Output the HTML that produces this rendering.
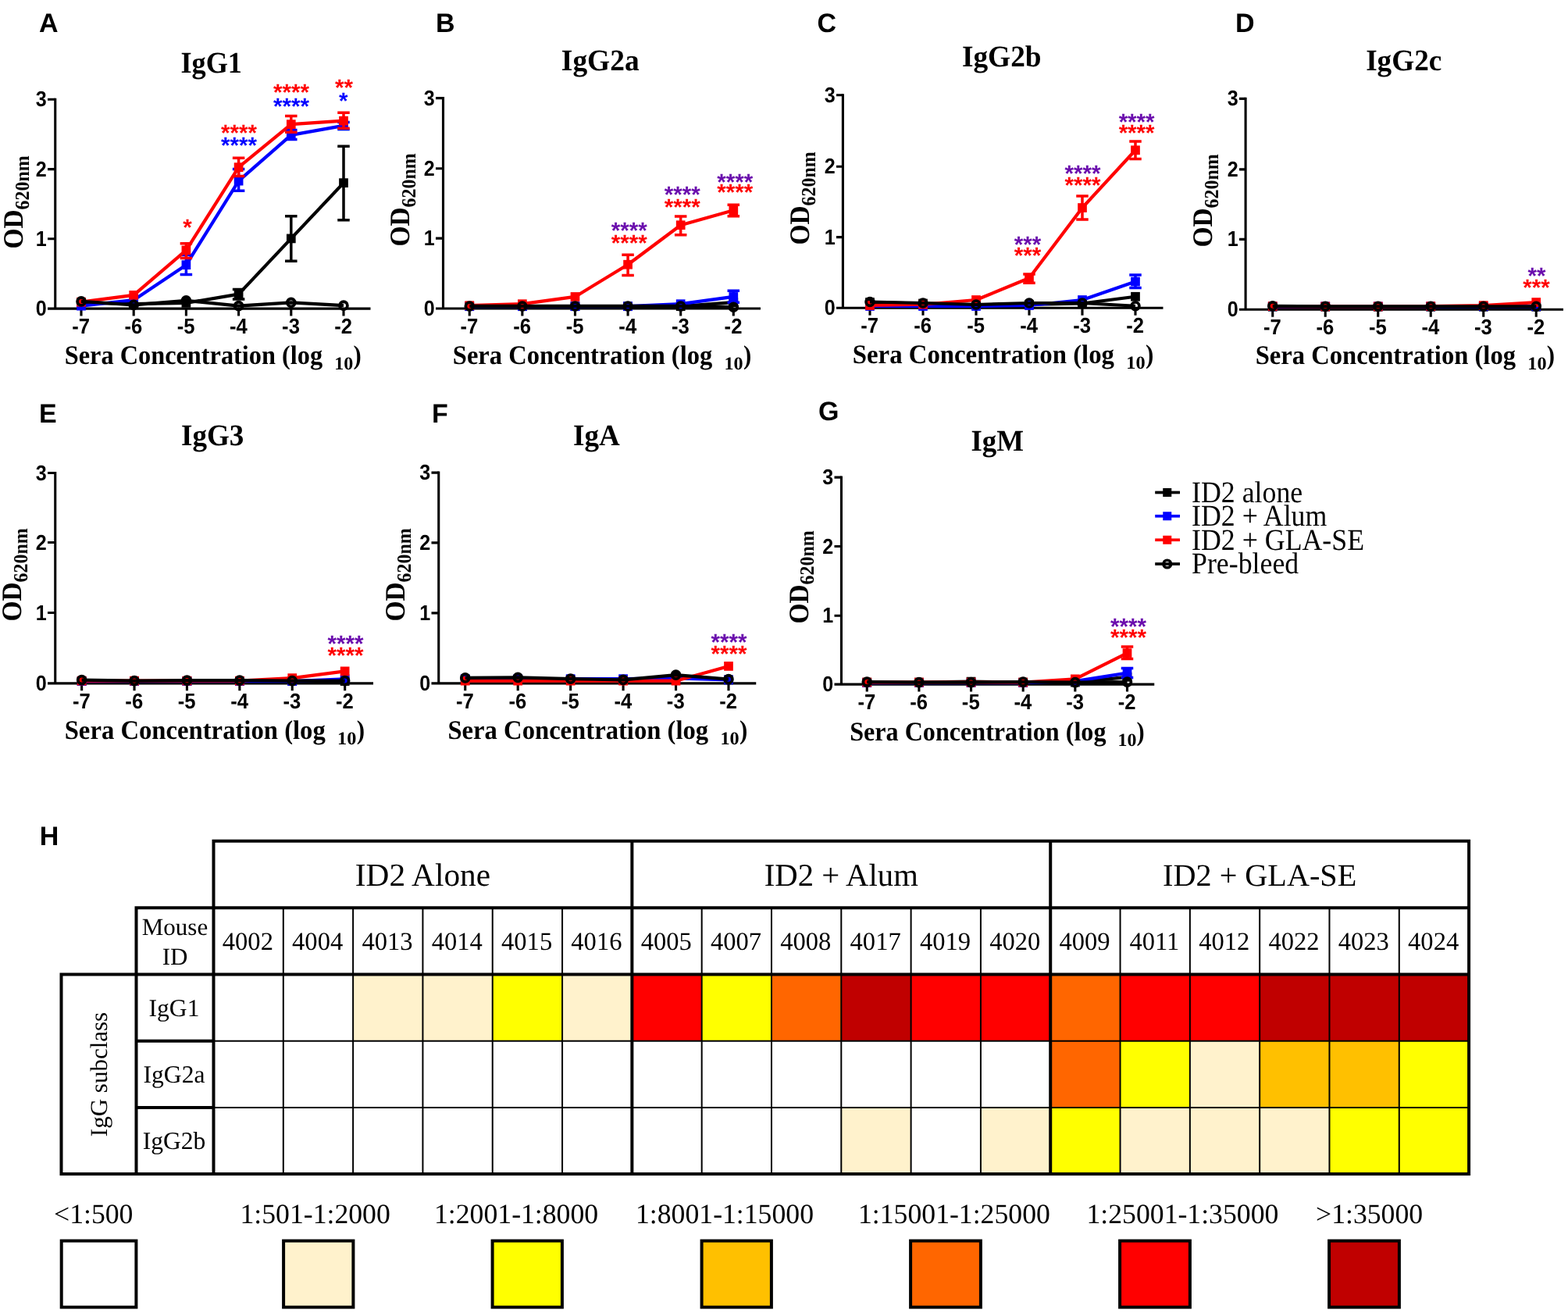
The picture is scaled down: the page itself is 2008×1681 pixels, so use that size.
<!DOCTYPE html>
<html lang="en">
<head>
<meta charset="utf-8">
<title>ID2 antibody isotype responses</title>
<style>
html,body{margin:0;padding:0;background:#fff;}
body{width:2008px;height:1681px;overflow:hidden;}
svg{display:block;position:absolute;left:0;top:0;}

</style>
</head>
<body>
<svg xmlns="http://www.w3.org/2000/svg" width="2008" height="1681" viewBox="0 0 2008 1681" shape-rendering="geometricPrecision" text-rendering="geometricPrecision">
<rect x="0" y="0" width="2008" height="1681" fill="#ffffff"/>
<g id="panel-A">
<text x="50" y="41" font-family="'Liberation Sans', Arial, Helvetica, sans-serif" font-weight="700" font-size="34">A</text>
<text transform="translate(270.7 92.9) scale(0.944 1)" text-anchor="middle" font-family="'Liberation Serif', 'Times New Roman', Times, serif" font-weight="700" font-size="38.4">IgG1</text>
<path d="M70.75 125.7V395.1M61 395.1H474.5" fill="none" stroke="#000" stroke-width="3.1"/>
<path d="M61 127.25H70.75M61 216.6H70.75M61 305.8H70.75M104 395.1V404.6M171.2 395.1V404.6M238.4 395.1V404.6M305.6 395.1V404.6M372.8 395.1V404.6M440 395.1V404.6" fill="none" stroke="#000" stroke-width="3.1"/>
<path d="M104 387.4 L171.2 389.15 L238.4 387.9 L305.6 376.65 L372.8 305.4 L440 234.15" fill="none" stroke="#000000" stroke-width="4.2" stroke-linejoin="round"/>
<path d="M305.6 370.4V382.9M297.85 370.4h15.5M297.85 382.9h15.5" fill="none" stroke="#000000" stroke-width="3.5"/>
<path d="M372.8 276.65V334.15M365.05 276.65h15.5M365.05 334.15h15.5" fill="none" stroke="#000000" stroke-width="3.5"/>
<path d="M440 187.15V281.65M432.25 187.15h15.5M432.25 281.65h15.5" fill="none" stroke="#000000" stroke-width="3.5"/>
<rect x="98.15" y="381.55" width="11.7" height="11.7" fill="#000000"/>
<rect x="165.35" y="383.3" width="11.7" height="11.7" fill="#000000"/>
<rect x="232.55" y="382.05" width="11.7" height="11.7" fill="#000000"/>
<rect x="299.75" y="370.8" width="11.7" height="11.7" fill="#000000"/>
<rect x="366.95" y="299.55" width="11.7" height="11.7" fill="#000000"/>
<rect x="434.15" y="228.3" width="11.7" height="11.7" fill="#000000"/>
<path d="M104 391.65 L171.2 384.15 L238.4 339.15 L305.6 231.65 L372.8 172.9 L440 160.9" fill="none" stroke="#0000ff" stroke-width="4.2" stroke-linejoin="round"/>
<path d="M238.4 326.4V351.4M230.65 326.4h15.5M230.65 351.4h15.5" fill="none" stroke="#0000ff" stroke-width="3.5"/>
<path d="M305.6 216.4V244.15M297.85 216.4h15.5M297.85 244.15h15.5" fill="none" stroke="#0000ff" stroke-width="3.5"/>
<path d="M372.8 166.4V178.4M365.05 166.4h15.5M365.05 178.4h15.5" fill="none" stroke="#0000ff" stroke-width="3.5"/>
<path d="M440 156.4V165.4M432.25 156.4h15.5M432.25 165.4h15.5" fill="none" stroke="#0000ff" stroke-width="3.5"/>
<rect x="98.15" y="385.8" width="11.7" height="11.7" fill="#0000ff"/>
<rect x="165.35" y="378.3" width="11.7" height="11.7" fill="#0000ff"/>
<rect x="232.55" y="333.3" width="11.7" height="11.7" fill="#0000ff"/>
<rect x="299.75" y="225.8" width="11.7" height="11.7" fill="#0000ff"/>
<rect x="366.95" y="167.05" width="11.7" height="11.7" fill="#0000ff"/>
<rect x="434.15" y="155.05" width="11.7" height="11.7" fill="#0000ff"/>
<path d="M104 386.65 L171.2 377.9 L238.4 320.4 L305.6 214.15 L372.8 159.15 L440 154.65" fill="none" stroke="#ff0000" stroke-width="4.2" stroke-linejoin="round"/>
<path d="M238.4 311.65V330.4M230.65 311.65h15.5M230.65 330.4h15.5" fill="none" stroke="#ff0000" stroke-width="3.5"/>
<path d="M305.6 202.15V225.4M297.85 202.15h15.5M297.85 225.4h15.5" fill="none" stroke="#ff0000" stroke-width="3.5"/>
<path d="M372.8 148.4V169.15M365.05 148.4h15.5M365.05 169.15h15.5" fill="none" stroke="#ff0000" stroke-width="3.5"/>
<path d="M440 144.15V164.15M432.25 144.15h15.5M432.25 164.15h15.5" fill="none" stroke="#ff0000" stroke-width="3.5"/>
<rect x="98.15" y="380.8" width="11.7" height="11.7" fill="#ff0000"/>
<rect x="165.35" y="372.05" width="11.7" height="11.7" fill="#ff0000"/>
<rect x="232.55" y="314.55" width="11.7" height="11.7" fill="#ff0000"/>
<rect x="299.75" y="208.3" width="11.7" height="11.7" fill="#ff0000"/>
<rect x="366.95" y="153.3" width="11.7" height="11.7" fill="#ff0000"/>
<rect x="434.15" y="148.8" width="11.7" height="11.7" fill="#ff0000"/>
<path d="M104 385.9 L171.2 390.4 L238.4 384.9 L305.6 391.65 L372.8 387.4 L440 391.15" fill="none" stroke="#000000" stroke-width="4.2" stroke-linejoin="round"/>
<circle cx="104" cy="385.9" r="4.9" fill="none" stroke="#000000" stroke-width="3.8"/>
<circle cx="171.2" cy="390.4" r="4.9" fill="none" stroke="#000000" stroke-width="3.8"/>
<circle cx="238.4" cy="384.9" r="4.9" fill="none" stroke="#000000" stroke-width="3.8"/>
<circle cx="305.6" cy="391.65" r="4.9" fill="none" stroke="#000000" stroke-width="3.8"/>
<circle cx="372.8" cy="387.4" r="4.9" fill="none" stroke="#000000" stroke-width="3.8"/>
<circle cx="440" cy="391.15" r="4.9" fill="none" stroke="#000000" stroke-width="3.8"/>
<text transform="translate(59.7 136.25) scale(0.91 1)" text-anchor="end" font-family="'Liberation Sans', Arial, Helvetica, sans-serif" font-weight="700" font-size="27.6">3</text>
<text transform="translate(59.7 225.6) scale(0.91 1)" text-anchor="end" font-family="'Liberation Sans', Arial, Helvetica, sans-serif" font-weight="700" font-size="27.6">2</text>
<text transform="translate(59.7 314.8) scale(0.91 1)" text-anchor="end" font-family="'Liberation Sans', Arial, Helvetica, sans-serif" font-weight="700" font-size="27.6">1</text>
<text transform="translate(59.7 404.1) scale(0.91 1)" text-anchor="end" font-family="'Liberation Sans', Arial, Helvetica, sans-serif" font-weight="700" font-size="27.6">0</text>
<text transform="translate(103.7 426.8) scale(0.93 1)" text-anchor="middle" font-family="'Liberation Sans', Arial, Helvetica, sans-serif" font-weight="700" font-size="27.6">-7</text>
<text transform="translate(170.9 426.8) scale(0.93 1)" text-anchor="middle" font-family="'Liberation Sans', Arial, Helvetica, sans-serif" font-weight="700" font-size="27.6">-6</text>
<text transform="translate(238.1 426.8) scale(0.93 1)" text-anchor="middle" font-family="'Liberation Sans', Arial, Helvetica, sans-serif" font-weight="700" font-size="27.6">-5</text>
<text transform="translate(305.3 426.8) scale(0.93 1)" text-anchor="middle" font-family="'Liberation Sans', Arial, Helvetica, sans-serif" font-weight="700" font-size="27.6">-4</text>
<text transform="translate(372.5 426.8) scale(0.93 1)" text-anchor="middle" font-family="'Liberation Sans', Arial, Helvetica, sans-serif" font-weight="700" font-size="27.6">-3</text>
<text transform="translate(439.7 426.8) scale(0.93 1)" text-anchor="middle" font-family="'Liberation Sans', Arial, Helvetica, sans-serif" font-weight="700" font-size="27.6">-2</text>
<text x="82.7" y="466" font-family="'Liberation Serif', 'Times New Roman', Times, serif" font-weight="700" font-size="34.3" textLength="330.5" lengthAdjust="spacingAndGlyphs">Sera Concentration (log</text>
<text x="428.35" y="472.6" font-family="'Liberation Serif', 'Times New Roman', Times, serif" font-weight="700" font-size="23.5" textLength="24.05" lengthAdjust="spacingAndGlyphs">10</text>
<text x="452.59" y="466" font-family="'Liberation Serif', 'Times New Roman', Times, serif" font-weight="700" font-size="34.3" textLength="10.23" lengthAdjust="spacingAndGlyphs">)</text>
<text transform="translate(29 259) rotate(-90) scale(0.93 1)" text-anchor="middle" font-family="'Liberation Serif', 'Times New Roman', Times, serif" font-weight="700" font-size="36">OD<tspan dy="7.5" font-size="25.7">620nm</tspan></text>
<text x="240" y="301" text-anchor="middle" font-family="'Liberation Sans', Arial, Helvetica, sans-serif" font-weight="700" font-size="29.5" fill="#ff0000">*</text>
<text x="305.9" y="180" text-anchor="middle" font-family="'Liberation Sans', Arial, Helvetica, sans-serif" font-weight="700" font-size="29.5" fill="#ff0000">****</text>
<text x="305.9" y="195.5" text-anchor="middle" font-family="'Liberation Sans', Arial, Helvetica, sans-serif" font-weight="700" font-size="29.5" fill="#0000ff">****</text>
<text x="373" y="128" text-anchor="middle" font-family="'Liberation Sans', Arial, Helvetica, sans-serif" font-weight="700" font-size="29.5" fill="#ff0000">****</text>
<text x="373" y="145.5" text-anchor="middle" font-family="'Liberation Sans', Arial, Helvetica, sans-serif" font-weight="700" font-size="29.5" fill="#0000ff">****</text>
<text x="440.4" y="122" text-anchor="middle" font-family="'Liberation Sans', Arial, Helvetica, sans-serif" font-weight="700" font-size="29.5" fill="#ff0000">**</text>
<text x="439.75" y="138.6" text-anchor="middle" font-family="'Liberation Sans', Arial, Helvetica, sans-serif" font-weight="700" font-size="29.5" fill="#0000ff">*</text>
</g>
<g id="panel-B">
<text x="558" y="41" font-family="'Liberation Sans', Arial, Helvetica, sans-serif" font-weight="700" font-size="34">B</text>
<text transform="translate(768.75 89.5) scale(0.975 1)" text-anchor="middle" font-family="'Liberation Serif', 'Times New Roman', Times, serif" font-weight="700" font-size="38.4">IgG2a</text>
<path d="M567.5 124.05V395M558 395H974" fill="none" stroke="#000" stroke-width="3.1"/>
<path d="M558 125.6H567.5M558 215.7H567.5M558 305.1H567.5M601.25 395V404.5M668.86 395V404.5M736.47 395V404.5M804.08 395V404.5M871.69 395V404.5M939.3 395V404.5" fill="none" stroke="#000" stroke-width="3.1"/>
<path d="M601.25 392.2 L668.86 392.2 L736.47 392.2 L804.08 392.2 L871.69 392.2 L939.3 387.2" fill="none" stroke="#000000" stroke-width="4.2" stroke-linejoin="round"/>
<rect x="595.4" y="386.35" width="11.7" height="11.7" fill="#000000"/>
<rect x="663.01" y="386.35" width="11.7" height="11.7" fill="#000000"/>
<rect x="730.62" y="386.35" width="11.7" height="11.7" fill="#000000"/>
<rect x="798.23" y="386.35" width="11.7" height="11.7" fill="#000000"/>
<rect x="865.84" y="386.35" width="11.7" height="11.7" fill="#000000"/>
<rect x="933.45" y="381.35" width="11.7" height="11.7" fill="#000000"/>
<path d="M601.25 392.2 L668.86 392.2 L736.47 392.2 L804.08 392.2 L871.69 389.2 L939.3 379.95" fill="none" stroke="#0000ff" stroke-width="4.2" stroke-linejoin="round"/>
<path d="M939.3 372.2V387.2M931.55 372.2h15.5M931.55 387.2h15.5" fill="none" stroke="#0000ff" stroke-width="3.5"/>
<rect x="595.4" y="386.35" width="11.7" height="11.7" fill="#0000ff"/>
<rect x="663.01" y="386.35" width="11.7" height="11.7" fill="#0000ff"/>
<rect x="730.62" y="386.35" width="11.7" height="11.7" fill="#0000ff"/>
<rect x="798.23" y="386.35" width="11.7" height="11.7" fill="#0000ff"/>
<rect x="865.84" y="383.35" width="11.7" height="11.7" fill="#0000ff"/>
<rect x="933.45" y="374.1" width="11.7" height="11.7" fill="#0000ff"/>
<path d="M601.25 391.2 L668.86 389.2 L736.47 379.95 L804.08 338.7 L871.69 288.2 L939.3 269.2" fill="none" stroke="#ff0000" stroke-width="4.2" stroke-linejoin="round"/>
<path d="M804.08 326.2V352.45M796.33 326.2h15.5M796.33 352.45h15.5" fill="none" stroke="#ff0000" stroke-width="3.5"/>
<path d="M871.69 276.95V300.7M863.94 276.95h15.5M863.94 300.7h15.5" fill="none" stroke="#ff0000" stroke-width="3.5"/>
<path d="M939.3 262.2V276.7M931.55 262.2h15.5M931.55 276.7h15.5" fill="none" stroke="#ff0000" stroke-width="3.5"/>
<rect x="595.4" y="385.35" width="11.7" height="11.7" fill="#ff0000"/>
<rect x="663.01" y="383.35" width="11.7" height="11.7" fill="#ff0000"/>
<rect x="730.62" y="374.1" width="11.7" height="11.7" fill="#ff0000"/>
<rect x="798.23" y="332.85" width="11.7" height="11.7" fill="#ff0000"/>
<rect x="865.84" y="282.35" width="11.7" height="11.7" fill="#ff0000"/>
<rect x="933.45" y="263.35" width="11.7" height="11.7" fill="#ff0000"/>
<path d="M601.25 391.95 L668.86 391.95 L736.47 391.95 L804.08 391.95 L871.69 391.95 L939.3 393.2" fill="none" stroke="#000000" stroke-width="4.2" stroke-linejoin="round"/>
<circle cx="601.25" cy="391.95" r="4.9" fill="none" stroke="#000000" stroke-width="3.8"/>
<circle cx="668.86" cy="391.95" r="4.9" fill="none" stroke="#000000" stroke-width="3.8"/>
<circle cx="736.47" cy="391.95" r="4.9" fill="none" stroke="#000000" stroke-width="3.8"/>
<circle cx="804.08" cy="391.95" r="4.9" fill="none" stroke="#000000" stroke-width="3.8"/>
<circle cx="871.69" cy="391.95" r="4.9" fill="none" stroke="#000000" stroke-width="3.8"/>
<circle cx="939.3" cy="393.2" r="4.9" fill="none" stroke="#000000" stroke-width="3.8"/>
<text transform="translate(556.7 134.6) scale(0.91 1)" text-anchor="end" font-family="'Liberation Sans', Arial, Helvetica, sans-serif" font-weight="700" font-size="27.6">3</text>
<text transform="translate(556.7 224.7) scale(0.91 1)" text-anchor="end" font-family="'Liberation Sans', Arial, Helvetica, sans-serif" font-weight="700" font-size="27.6">2</text>
<text transform="translate(556.7 314.1) scale(0.91 1)" text-anchor="end" font-family="'Liberation Sans', Arial, Helvetica, sans-serif" font-weight="700" font-size="27.6">1</text>
<text transform="translate(556.7 404) scale(0.91 1)" text-anchor="end" font-family="'Liberation Sans', Arial, Helvetica, sans-serif" font-weight="700" font-size="27.6">0</text>
<text transform="translate(600.95 426.7) scale(0.93 1)" text-anchor="middle" font-family="'Liberation Sans', Arial, Helvetica, sans-serif" font-weight="700" font-size="27.6">-7</text>
<text transform="translate(668.56 426.7) scale(0.93 1)" text-anchor="middle" font-family="'Liberation Sans', Arial, Helvetica, sans-serif" font-weight="700" font-size="27.6">-6</text>
<text transform="translate(736.17 426.7) scale(0.93 1)" text-anchor="middle" font-family="'Liberation Sans', Arial, Helvetica, sans-serif" font-weight="700" font-size="27.6">-5</text>
<text transform="translate(803.78 426.7) scale(0.93 1)" text-anchor="middle" font-family="'Liberation Sans', Arial, Helvetica, sans-serif" font-weight="700" font-size="27.6">-4</text>
<text transform="translate(871.39 426.7) scale(0.93 1)" text-anchor="middle" font-family="'Liberation Sans', Arial, Helvetica, sans-serif" font-weight="700" font-size="27.6">-3</text>
<text transform="translate(939 426.7) scale(0.93 1)" text-anchor="middle" font-family="'Liberation Sans', Arial, Helvetica, sans-serif" font-weight="700" font-size="27.6">-2</text>
<text x="579.8" y="466" font-family="'Liberation Serif', 'Times New Roman', Times, serif" font-weight="700" font-size="34.3" textLength="332.46" lengthAdjust="spacingAndGlyphs">Sera Concentration (log</text>
<text x="927.5" y="472.6" font-family="'Liberation Serif', 'Times New Roman', Times, serif" font-weight="700" font-size="23.5" textLength="24.19" lengthAdjust="spacingAndGlyphs">10</text>
<text x="951.88" y="466" font-family="'Liberation Serif', 'Times New Roman', Times, serif" font-weight="700" font-size="34.3" textLength="10.29" lengthAdjust="spacingAndGlyphs">)</text>
<text transform="translate(524.2 256) rotate(-90) scale(0.93 1)" text-anchor="middle" font-family="'Liberation Serif', 'Times New Roman', Times, serif" font-weight="700" font-size="36">OD<tspan dy="7.5" font-size="25.7">620nm</tspan></text>
<text x="805.75" y="305.4" text-anchor="middle" font-family="'Liberation Sans', Arial, Helvetica, sans-serif" font-weight="700" font-size="29.5" fill="#6a0dad">****</text>
<text x="805.75" y="320.9" text-anchor="middle" font-family="'Liberation Sans', Arial, Helvetica, sans-serif" font-weight="700" font-size="29.5" fill="#ff0000">****</text>
<text x="873.75" y="258.9" text-anchor="middle" font-family="'Liberation Sans', Arial, Helvetica, sans-serif" font-weight="700" font-size="29.5" fill="#6a0dad">****</text>
<text x="873.75" y="275.15" text-anchor="middle" font-family="'Liberation Sans', Arial, Helvetica, sans-serif" font-weight="700" font-size="29.5" fill="#ff0000">****</text>
<text x="941.25" y="242.65" text-anchor="middle" font-family="'Liberation Sans', Arial, Helvetica, sans-serif" font-weight="700" font-size="29.5" fill="#6a0dad">****</text>
<text x="941.25" y="255.9" text-anchor="middle" font-family="'Liberation Sans', Arial, Helvetica, sans-serif" font-weight="700" font-size="29.5" fill="#ff0000">****</text>
</g>
<g id="panel-C">
<text x="1046.5" y="41" font-family="'Liberation Sans', Arial, Helvetica, sans-serif" font-weight="700" font-size="34">C</text>
<text transform="translate(1282.75 85.3) scale(0.973 1)" text-anchor="middle" font-family="'Liberation Serif', 'Times New Roman', Times, serif" font-weight="700" font-size="38.4">IgG2b</text>
<path d="M1079.4 120.15V394.25M1071 394.25H1489.5" fill="none" stroke="#000" stroke-width="3.1"/>
<path d="M1071 121.7H1079.4M1071 213.2H1079.4M1071 303.6H1079.4M1114 394.25V403.75M1182 394.25V403.75M1250 394.25V403.75M1318 394.25V403.75M1386 394.25V403.75M1454 394.25V403.75" fill="none" stroke="#000" stroke-width="3.1"/>
<path d="M1114 387 L1182 388.5 L1250 390 L1318 390 L1386 388.5 L1454 379.75" fill="none" stroke="#000000" stroke-width="4.2" stroke-linejoin="round"/>
<rect x="1108.15" y="381.15" width="11.7" height="11.7" fill="#000000"/>
<rect x="1176.15" y="382.65" width="11.7" height="11.7" fill="#000000"/>
<rect x="1244.15" y="384.15" width="11.7" height="11.7" fill="#000000"/>
<rect x="1312.15" y="384.15" width="11.7" height="11.7" fill="#000000"/>
<rect x="1380.15" y="382.65" width="11.7" height="11.7" fill="#000000"/>
<rect x="1448.15" y="373.9" width="11.7" height="11.7" fill="#000000"/>
<path d="M1114 392 L1182 392 L1250 392 L1318 391 L1386 384 L1454 360.5" fill="none" stroke="#0000ff" stroke-width="4.2" stroke-linejoin="round"/>
<path d="M1454 352V368.5M1446.25 352h15.5M1446.25 368.5h15.5" fill="none" stroke="#0000ff" stroke-width="3.5"/>
<rect x="1108.15" y="386.15" width="11.7" height="11.7" fill="#0000ff"/>
<rect x="1176.15" y="386.15" width="11.7" height="11.7" fill="#0000ff"/>
<rect x="1244.15" y="386.15" width="11.7" height="11.7" fill="#0000ff"/>
<rect x="1312.15" y="385.15" width="11.7" height="11.7" fill="#0000ff"/>
<rect x="1380.15" y="378.15" width="11.7" height="11.7" fill="#0000ff"/>
<rect x="1448.15" y="354.65" width="11.7" height="11.7" fill="#0000ff"/>
<path d="M1114 391 L1182 389.75 L1250 384 L1318 356 L1386 266 L1454 192.25" fill="none" stroke="#ff0000" stroke-width="4.2" stroke-linejoin="round"/>
<path d="M1318 351V362.25M1310.25 351h15.5M1310.25 362.25h15.5" fill="none" stroke="#ff0000" stroke-width="3.5"/>
<path d="M1386 251V281M1378.25 251h15.5M1378.25 281h15.5" fill="none" stroke="#ff0000" stroke-width="3.5"/>
<path d="M1454 181V203.5M1446.25 181h15.5M1446.25 203.5h15.5" fill="none" stroke="#ff0000" stroke-width="3.5"/>
<rect x="1108.15" y="385.15" width="11.7" height="11.7" fill="#ff0000"/>
<rect x="1176.15" y="383.9" width="11.7" height="11.7" fill="#ff0000"/>
<rect x="1244.15" y="378.15" width="11.7" height="11.7" fill="#ff0000"/>
<rect x="1312.15" y="350.15" width="11.7" height="11.7" fill="#ff0000"/>
<rect x="1380.15" y="260.15" width="11.7" height="11.7" fill="#ff0000"/>
<rect x="1448.15" y="186.4" width="11.7" height="11.7" fill="#ff0000"/>
<path d="M1114 386.5 L1182 388 L1250 390 L1318 388 L1386 388 L1454 391.75" fill="none" stroke="#000000" stroke-width="4.2" stroke-linejoin="round"/>
<circle cx="1114" cy="386.5" r="4.9" fill="none" stroke="#000000" stroke-width="3.8"/>
<circle cx="1182" cy="388" r="4.9" fill="none" stroke="#000000" stroke-width="3.8"/>
<circle cx="1250" cy="390" r="4.9" fill="none" stroke="#000000" stroke-width="3.8"/>
<circle cx="1318" cy="388" r="4.9" fill="none" stroke="#000000" stroke-width="3.8"/>
<circle cx="1386" cy="388" r="4.9" fill="none" stroke="#000000" stroke-width="3.8"/>
<circle cx="1454" cy="391.75" r="4.9" fill="none" stroke="#000000" stroke-width="3.8"/>
<text transform="translate(1069.7 130.7) scale(0.91 1)" text-anchor="end" font-family="'Liberation Sans', Arial, Helvetica, sans-serif" font-weight="700" font-size="27.6">3</text>
<text transform="translate(1069.7 222.2) scale(0.91 1)" text-anchor="end" font-family="'Liberation Sans', Arial, Helvetica, sans-serif" font-weight="700" font-size="27.6">2</text>
<text transform="translate(1069.7 312.6) scale(0.91 1)" text-anchor="end" font-family="'Liberation Sans', Arial, Helvetica, sans-serif" font-weight="700" font-size="27.6">1</text>
<text transform="translate(1069.7 403.25) scale(0.91 1)" text-anchor="end" font-family="'Liberation Sans', Arial, Helvetica, sans-serif" font-weight="700" font-size="27.6">0</text>
<text transform="translate(1113.7 425.95) scale(0.93 1)" text-anchor="middle" font-family="'Liberation Sans', Arial, Helvetica, sans-serif" font-weight="700" font-size="27.6">-7</text>
<text transform="translate(1181.7 425.95) scale(0.93 1)" text-anchor="middle" font-family="'Liberation Sans', Arial, Helvetica, sans-serif" font-weight="700" font-size="27.6">-6</text>
<text transform="translate(1249.7 425.95) scale(0.93 1)" text-anchor="middle" font-family="'Liberation Sans', Arial, Helvetica, sans-serif" font-weight="700" font-size="27.6">-5</text>
<text transform="translate(1317.7 425.95) scale(0.93 1)" text-anchor="middle" font-family="'Liberation Sans', Arial, Helvetica, sans-serif" font-weight="700" font-size="27.6">-4</text>
<text transform="translate(1385.7 425.95) scale(0.93 1)" text-anchor="middle" font-family="'Liberation Sans', Arial, Helvetica, sans-serif" font-weight="700" font-size="27.6">-3</text>
<text transform="translate(1453.7 425.95) scale(0.93 1)" text-anchor="middle" font-family="'Liberation Sans', Arial, Helvetica, sans-serif" font-weight="700" font-size="27.6">-2</text>
<text x="1091.8" y="465" font-family="'Liberation Serif', 'Times New Roman', Times, serif" font-weight="700" font-size="34.3" textLength="335.2" lengthAdjust="spacingAndGlyphs">Sera Concentration (log</text>
<text x="1442.37" y="471.6" font-family="'Liberation Serif', 'Times New Roman', Times, serif" font-weight="700" font-size="23.5" textLength="24.39" lengthAdjust="spacingAndGlyphs">10</text>
<text x="1466.95" y="465" font-family="'Liberation Serif', 'Times New Roman', Times, serif" font-weight="700" font-size="34.3" textLength="10.37" lengthAdjust="spacingAndGlyphs">)</text>
<text transform="translate(1036 254) rotate(-90) scale(0.93 1)" text-anchor="middle" font-family="'Liberation Serif', 'Times New Roman', Times, serif" font-weight="700" font-size="36">OD<tspan dy="7.5" font-size="25.7">620nm</tspan></text>
<text x="1316" y="322.75" text-anchor="middle" font-family="'Liberation Sans', Arial, Helvetica, sans-serif" font-weight="700" font-size="29.5" fill="#6a0dad">***</text>
<text x="1316" y="336.5" text-anchor="middle" font-family="'Liberation Sans', Arial, Helvetica, sans-serif" font-weight="700" font-size="29.5" fill="#ff0000">***</text>
<text x="1386.5" y="232" text-anchor="middle" font-family="'Liberation Sans', Arial, Helvetica, sans-serif" font-weight="700" font-size="29.5" fill="#6a0dad">****</text>
<text x="1386.5" y="246.5" text-anchor="middle" font-family="'Liberation Sans', Arial, Helvetica, sans-serif" font-weight="700" font-size="29.5" fill="#ff0000">****</text>
<text x="1455.6" y="165.75" text-anchor="middle" font-family="'Liberation Sans', Arial, Helvetica, sans-serif" font-weight="700" font-size="29.5" fill="#6a0dad">****</text>
<text x="1455.6" y="179.5" text-anchor="middle" font-family="'Liberation Sans', Arial, Helvetica, sans-serif" font-weight="700" font-size="29.5" fill="#ff0000">****</text>
</g>
<g id="panel-D">
<text x="1582" y="41" font-family="'Liberation Sans', Arial, Helvetica, sans-serif" font-weight="700" font-size="34">D</text>
<text transform="translate(1797.7 90.4) scale(0.969 1)" text-anchor="middle" font-family="'Liberation Serif', 'Times New Roman', Times, serif" font-weight="700" font-size="38.4">IgG2c</text>
<path d="M1595.1 124.8V396.25M1587 396.25H2002" fill="none" stroke="#000" stroke-width="3.1"/>
<path d="M1587 126.35H1595.1M1587 216.85H1595.1M1587 306.35H1595.1M1629.75 396.25V405.75M1697.25 396.25V405.75M1764.75 396.25V405.75M1832.25 396.25V405.75M1899.75 396.25V405.75M1967.25 396.25V405.75" fill="none" stroke="#000" stroke-width="3.1"/>
<path d="M1629.75 392.8 L1697.25 392.8 L1764.75 392.8 L1832.25 392.8 L1899.75 392.8 L1967.25 392.8" fill="none" stroke="#000000" stroke-width="4.2" stroke-linejoin="round"/>
<rect x="1623.9" y="386.95" width="11.7" height="11.7" fill="#000000"/>
<rect x="1691.4" y="386.95" width="11.7" height="11.7" fill="#000000"/>
<rect x="1758.9" y="386.95" width="11.7" height="11.7" fill="#000000"/>
<rect x="1826.4" y="386.95" width="11.7" height="11.7" fill="#000000"/>
<rect x="1893.9" y="386.95" width="11.7" height="11.7" fill="#000000"/>
<rect x="1961.4" y="386.95" width="11.7" height="11.7" fill="#000000"/>
<path d="M1629.75 392.3 L1697.25 392.3 L1764.75 392.3 L1832.25 392.3 L1899.75 392.3 L1967.25 392.3" fill="none" stroke="#0000ff" stroke-width="4.2" stroke-linejoin="round"/>
<rect x="1623.9" y="386.45" width="11.7" height="11.7" fill="#0000ff"/>
<rect x="1691.4" y="386.45" width="11.7" height="11.7" fill="#0000ff"/>
<rect x="1758.9" y="386.45" width="11.7" height="11.7" fill="#0000ff"/>
<rect x="1826.4" y="386.45" width="11.7" height="11.7" fill="#0000ff"/>
<rect x="1893.9" y="386.45" width="11.7" height="11.7" fill="#0000ff"/>
<rect x="1961.4" y="386.45" width="11.7" height="11.7" fill="#0000ff"/>
<path d="M1629.75 392.1 L1697.25 392.4 L1764.75 392.4 L1832.25 392.1 L1899.75 391.1 L1967.25 387.05" fill="none" stroke="#ff0000" stroke-width="4.2" stroke-linejoin="round"/>
<rect x="1623.9" y="386.25" width="11.7" height="11.7" fill="#ff0000"/>
<rect x="1691.4" y="386.55" width="11.7" height="11.7" fill="#ff0000"/>
<rect x="1758.9" y="386.55" width="11.7" height="11.7" fill="#ff0000"/>
<rect x="1826.4" y="386.25" width="11.7" height="11.7" fill="#ff0000"/>
<rect x="1893.9" y="385.25" width="11.7" height="11.7" fill="#ff0000"/>
<rect x="1961.4" y="381.2" width="11.7" height="11.7" fill="#ff0000"/>
<path d="M1629.75 391.8 L1697.25 392.3 L1764.75 392.3 L1832.25 392.3 L1899.75 392.3 L1967.25 392.3" fill="none" stroke="#000000" stroke-width="4.2" stroke-linejoin="round"/>
<circle cx="1629.75" cy="391.8" r="4.9" fill="none" stroke="#000000" stroke-width="3.8"/>
<circle cx="1697.25" cy="392.3" r="4.9" fill="none" stroke="#000000" stroke-width="3.8"/>
<circle cx="1764.75" cy="392.3" r="4.9" fill="none" stroke="#000000" stroke-width="3.8"/>
<circle cx="1832.25" cy="392.3" r="4.9" fill="none" stroke="#000000" stroke-width="3.8"/>
<circle cx="1899.75" cy="392.3" r="4.9" fill="none" stroke="#000000" stroke-width="3.8"/>
<circle cx="1967.25" cy="392.3" r="4.9" fill="none" stroke="#000000" stroke-width="3.8"/>
<text transform="translate(1585.7 135.35) scale(0.91 1)" text-anchor="end" font-family="'Liberation Sans', Arial, Helvetica, sans-serif" font-weight="700" font-size="27.6">3</text>
<text transform="translate(1585.7 225.85) scale(0.91 1)" text-anchor="end" font-family="'Liberation Sans', Arial, Helvetica, sans-serif" font-weight="700" font-size="27.6">2</text>
<text transform="translate(1585.7 315.35) scale(0.91 1)" text-anchor="end" font-family="'Liberation Sans', Arial, Helvetica, sans-serif" font-weight="700" font-size="27.6">1</text>
<text transform="translate(1585.7 405.25) scale(0.91 1)" text-anchor="end" font-family="'Liberation Sans', Arial, Helvetica, sans-serif" font-weight="700" font-size="27.6">0</text>
<text transform="translate(1629.45 427.95) scale(0.93 1)" text-anchor="middle" font-family="'Liberation Sans', Arial, Helvetica, sans-serif" font-weight="700" font-size="27.6">-7</text>
<text transform="translate(1696.95 427.95) scale(0.93 1)" text-anchor="middle" font-family="'Liberation Sans', Arial, Helvetica, sans-serif" font-weight="700" font-size="27.6">-6</text>
<text transform="translate(1764.45 427.95) scale(0.93 1)" text-anchor="middle" font-family="'Liberation Sans', Arial, Helvetica, sans-serif" font-weight="700" font-size="27.6">-5</text>
<text transform="translate(1831.95 427.95) scale(0.93 1)" text-anchor="middle" font-family="'Liberation Sans', Arial, Helvetica, sans-serif" font-weight="700" font-size="27.6">-4</text>
<text transform="translate(1899.45 427.95) scale(0.93 1)" text-anchor="middle" font-family="'Liberation Sans', Arial, Helvetica, sans-serif" font-weight="700" font-size="27.6">-3</text>
<text transform="translate(1966.95 427.95) scale(0.93 1)" text-anchor="middle" font-family="'Liberation Sans', Arial, Helvetica, sans-serif" font-weight="700" font-size="27.6">-2</text>
<text x="1607.7" y="466.4" font-family="'Liberation Serif', 'Times New Roman', Times, serif" font-weight="700" font-size="34.3" textLength="333.33" lengthAdjust="spacingAndGlyphs">Sera Concentration (log</text>
<text x="1956.31" y="473" font-family="'Liberation Serif', 'Times New Roman', Times, serif" font-weight="700" font-size="23.5" textLength="24.26" lengthAdjust="spacingAndGlyphs">10</text>
<text x="1980.76" y="466.4" font-family="'Liberation Serif', 'Times New Roman', Times, serif" font-weight="700" font-size="34.3" textLength="10.31" lengthAdjust="spacingAndGlyphs">)</text>
<text transform="translate(1552 257) rotate(-90) scale(0.93 1)" text-anchor="middle" font-family="'Liberation Serif', 'Times New Roman', Times, serif" font-weight="700" font-size="36">OD<tspan dy="7.5" font-size="25.7">620nm</tspan></text>
<text x="1967.9" y="363.05" text-anchor="middle" font-family="'Liberation Sans', Arial, Helvetica, sans-serif" font-weight="700" font-size="29.5" fill="#6a0dad">**</text>
<text x="1967.4" y="377.55" text-anchor="middle" font-family="'Liberation Sans', Arial, Helvetica, sans-serif" font-weight="700" font-size="29.5" fill="#ff0000">***</text>
</g>
<g id="panel-E">
<text x="50" y="541" font-family="'Liberation Sans', Arial, Helvetica, sans-serif" font-weight="700" font-size="34">E</text>
<text transform="translate(272.2 570.1) scale(0.967 1)" text-anchor="middle" font-family="'Liberation Serif', 'Times New Roman', Times, serif" font-weight="700" font-size="38.4">IgG3</text>
<path d="M70.75 604V874.85M61 874.85H478" fill="none" stroke="#000" stroke-width="3.1"/>
<path d="M61 605.55H70.75M61 694.5H70.75M61 784.5H70.75M104.65 874.85V884.35M172.05 874.85V884.35M239.45 874.85V884.35M306.85 874.85V884.35M374.25 874.85V884.35M441.65 874.85V884.35" fill="none" stroke="#000" stroke-width="3.1"/>
<path d="M104.65 872.1 L172.05 872.1 L239.45 872.1 L306.85 872.1 L374.25 872.1 L441.65 872.1" fill="none" stroke="#000000" stroke-width="4.2" stroke-linejoin="round"/>
<rect x="98.8" y="866.25" width="11.7" height="11.7" fill="#000000"/>
<rect x="166.2" y="866.25" width="11.7" height="11.7" fill="#000000"/>
<rect x="233.6" y="866.25" width="11.7" height="11.7" fill="#000000"/>
<rect x="301" y="866.25" width="11.7" height="11.7" fill="#000000"/>
<rect x="368.4" y="866.25" width="11.7" height="11.7" fill="#000000"/>
<rect x="435.8" y="866.25" width="11.7" height="11.7" fill="#000000"/>
<path d="M104.65 872.1 L172.05 872.1 L239.45 872.1 L306.85 872.1 L374.25 872.1 L441.65 869.35" fill="none" stroke="#0000ff" stroke-width="4.2" stroke-linejoin="round"/>
<rect x="98.8" y="866.25" width="11.7" height="11.7" fill="#0000ff"/>
<rect x="166.2" y="866.25" width="11.7" height="11.7" fill="#0000ff"/>
<rect x="233.6" y="866.25" width="11.7" height="11.7" fill="#0000ff"/>
<rect x="301" y="866.25" width="11.7" height="11.7" fill="#0000ff"/>
<rect x="368.4" y="866.25" width="11.7" height="11.7" fill="#0000ff"/>
<rect x="435.8" y="863.5" width="11.7" height="11.7" fill="#0000ff"/>
<path d="M104.65 871.6 L172.05 871.6 L239.45 871.6 L306.85 871.6 L374.25 868.1 L441.65 859.35" fill="none" stroke="#ff0000" stroke-width="4.2" stroke-linejoin="round"/>
<rect x="98.8" y="865.75" width="11.7" height="11.7" fill="#ff0000"/>
<rect x="166.2" y="865.75" width="11.7" height="11.7" fill="#ff0000"/>
<rect x="233.6" y="865.75" width="11.7" height="11.7" fill="#ff0000"/>
<rect x="301" y="865.75" width="11.7" height="11.7" fill="#ff0000"/>
<rect x="368.4" y="862.25" width="11.7" height="11.7" fill="#ff0000"/>
<rect x="435.8" y="853.5" width="11.7" height="11.7" fill="#ff0000"/>
<path d="M104.65 870.6 L172.05 871.6 L239.45 871.1 L306.85 871.1 L374.25 871.6 L441.65 871.6" fill="none" stroke="#000000" stroke-width="4.2" stroke-linejoin="round"/>
<circle cx="104.65" cy="870.6" r="4.9" fill="none" stroke="#000000" stroke-width="3.8"/>
<circle cx="172.05" cy="871.6" r="4.9" fill="none" stroke="#000000" stroke-width="3.8"/>
<circle cx="239.45" cy="871.1" r="4.9" fill="none" stroke="#000000" stroke-width="3.8"/>
<circle cx="306.85" cy="871.1" r="4.9" fill="none" stroke="#000000" stroke-width="3.8"/>
<circle cx="374.25" cy="871.6" r="4.9" fill="none" stroke="#000000" stroke-width="3.8"/>
<circle cx="441.65" cy="871.6" r="4.9" fill="none" stroke="#000000" stroke-width="3.8"/>
<text transform="translate(59.7 614.55) scale(0.91 1)" text-anchor="end" font-family="'Liberation Sans', Arial, Helvetica, sans-serif" font-weight="700" font-size="27.6">3</text>
<text transform="translate(59.7 703.5) scale(0.91 1)" text-anchor="end" font-family="'Liberation Sans', Arial, Helvetica, sans-serif" font-weight="700" font-size="27.6">2</text>
<text transform="translate(59.7 793.5) scale(0.91 1)" text-anchor="end" font-family="'Liberation Sans', Arial, Helvetica, sans-serif" font-weight="700" font-size="27.6">1</text>
<text transform="translate(59.7 883.85) scale(0.91 1)" text-anchor="end" font-family="'Liberation Sans', Arial, Helvetica, sans-serif" font-weight="700" font-size="27.6">0</text>
<text transform="translate(104.35 906.55) scale(0.93 1)" text-anchor="middle" font-family="'Liberation Sans', Arial, Helvetica, sans-serif" font-weight="700" font-size="27.6">-7</text>
<text transform="translate(171.75 906.55) scale(0.93 1)" text-anchor="middle" font-family="'Liberation Sans', Arial, Helvetica, sans-serif" font-weight="700" font-size="27.6">-6</text>
<text transform="translate(239.15 906.55) scale(0.93 1)" text-anchor="middle" font-family="'Liberation Sans', Arial, Helvetica, sans-serif" font-weight="700" font-size="27.6">-5</text>
<text transform="translate(306.55 906.55) scale(0.93 1)" text-anchor="middle" font-family="'Liberation Sans', Arial, Helvetica, sans-serif" font-weight="700" font-size="27.6">-4</text>
<text transform="translate(373.95 906.55) scale(0.93 1)" text-anchor="middle" font-family="'Liberation Sans', Arial, Helvetica, sans-serif" font-weight="700" font-size="27.6">-3</text>
<text transform="translate(441.35 906.55) scale(0.93 1)" text-anchor="middle" font-family="'Liberation Sans', Arial, Helvetica, sans-serif" font-weight="700" font-size="27.6">-2</text>
<text x="82.7" y="946.4" font-family="'Liberation Serif', 'Times New Roman', Times, serif" font-weight="700" font-size="34.3" textLength="334.11" lengthAdjust="spacingAndGlyphs">Sera Concentration (log</text>
<text x="432.13" y="953" font-family="'Liberation Serif', 'Times New Roman', Times, serif" font-weight="700" font-size="23.5" textLength="24.31" lengthAdjust="spacingAndGlyphs">10</text>
<text x="456.64" y="946.4" font-family="'Liberation Serif', 'Times New Roman', Times, serif" font-weight="700" font-size="34.3" textLength="10.34" lengthAdjust="spacingAndGlyphs">)</text>
<text transform="translate(27 736) rotate(-90) scale(0.93 1)" text-anchor="middle" font-family="'Liberation Serif', 'Times New Roman', Times, serif" font-weight="700" font-size="36">OD<tspan dy="7.5" font-size="25.7">620nm</tspan></text>
<text x="442.5" y="834.05" text-anchor="middle" font-family="'Liberation Sans', Arial, Helvetica, sans-serif" font-weight="700" font-size="29.5" fill="#6a0dad">****</text>
<text x="442.5" y="849.05" text-anchor="middle" font-family="'Liberation Sans', Arial, Helvetica, sans-serif" font-weight="700" font-size="29.5" fill="#ff0000">****</text>
</g>
<g id="panel-F">
<text x="553" y="541" font-family="'Liberation Sans', Arial, Helvetica, sans-serif" font-weight="700" font-size="34">F</text>
<text transform="translate(764 569.6) scale(0.968 1)" text-anchor="middle" font-family="'Liberation Serif', 'Times New Roman', Times, serif" font-weight="700" font-size="38.4">IgA</text>
<path d="M561.75 603.6V874.85M552.5 874.85H968.25" fill="none" stroke="#000" stroke-width="3.1"/>
<path d="M552.5 605.15H561.75M552.5 694.85H561.75M552.5 784.85H561.75M595.75 874.85V884.35M663.2 874.85V884.35M730.65 874.85V884.35M798.1 874.85V884.35M865.55 874.85V884.35M933 874.85V884.35" fill="none" stroke="#000" stroke-width="3.1"/>
<path d="M595.75 869.9 L663.2 869.9 L730.65 870.4 L798.1 870.9 L865.55 866.4 L933 870.4" fill="none" stroke="#000000" stroke-width="4.2" stroke-linejoin="round"/>
<rect x="589.9" y="864.05" width="11.7" height="11.7" fill="#000000"/>
<rect x="657.35" y="864.05" width="11.7" height="11.7" fill="#000000"/>
<rect x="724.8" y="864.55" width="11.7" height="11.7" fill="#000000"/>
<rect x="792.25" y="865.05" width="11.7" height="11.7" fill="#000000"/>
<rect x="859.7" y="860.55" width="11.7" height="11.7" fill="#000000"/>
<rect x="927.15" y="864.55" width="11.7" height="11.7" fill="#000000"/>
<path d="M595.75 869.15 L663.2 869.15 L730.65 869.15 L798.1 869.15 L865.55 868.4 L933 870.4" fill="none" stroke="#0000ff" stroke-width="4.2" stroke-linejoin="round"/>
<rect x="589.9" y="863.3" width="11.7" height="11.7" fill="#0000ff"/>
<rect x="657.35" y="863.3" width="11.7" height="11.7" fill="#0000ff"/>
<rect x="724.8" y="863.3" width="11.7" height="11.7" fill="#0000ff"/>
<rect x="792.25" y="863.3" width="11.7" height="11.7" fill="#0000ff"/>
<rect x="859.7" y="862.55" width="11.7" height="11.7" fill="#0000ff"/>
<rect x="927.15" y="864.55" width="11.7" height="11.7" fill="#0000ff"/>
<path d="M595.75 871.65 L663.2 871.65 L730.65 871.65 L798.1 871.65 L865.55 871.65 L933 852.9" fill="none" stroke="#ff0000" stroke-width="4.2" stroke-linejoin="round"/>
<rect x="589.9" y="865.8" width="11.7" height="11.7" fill="#ff0000"/>
<rect x="657.35" y="865.8" width="11.7" height="11.7" fill="#ff0000"/>
<rect x="724.8" y="865.8" width="11.7" height="11.7" fill="#ff0000"/>
<rect x="792.25" y="865.8" width="11.7" height="11.7" fill="#ff0000"/>
<rect x="859.7" y="865.8" width="11.7" height="11.7" fill="#ff0000"/>
<rect x="927.15" y="847.05" width="11.7" height="11.7" fill="#ff0000"/>
<path d="M595.75 867.9 L663.2 867.4 L730.65 869.15 L798.1 870.4 L865.55 864.15 L933 869.65" fill="none" stroke="#000000" stroke-width="4.2" stroke-linejoin="round"/>
<circle cx="595.75" cy="867.9" r="4.9" fill="none" stroke="#000000" stroke-width="3.8"/>
<circle cx="663.2" cy="867.4" r="4.9" fill="none" stroke="#000000" stroke-width="3.8"/>
<circle cx="730.65" cy="869.15" r="4.9" fill="none" stroke="#000000" stroke-width="3.8"/>
<circle cx="798.1" cy="870.4" r="4.9" fill="none" stroke="#000000" stroke-width="3.8"/>
<circle cx="865.55" cy="864.15" r="4.9" fill="none" stroke="#000000" stroke-width="3.8"/>
<circle cx="933" cy="869.65" r="4.9" fill="none" stroke="#000000" stroke-width="3.8"/>
<text transform="translate(551.2 614.15) scale(0.91 1)" text-anchor="end" font-family="'Liberation Sans', Arial, Helvetica, sans-serif" font-weight="700" font-size="27.6">3</text>
<text transform="translate(551.2 703.85) scale(0.91 1)" text-anchor="end" font-family="'Liberation Sans', Arial, Helvetica, sans-serif" font-weight="700" font-size="27.6">2</text>
<text transform="translate(551.2 793.85) scale(0.91 1)" text-anchor="end" font-family="'Liberation Sans', Arial, Helvetica, sans-serif" font-weight="700" font-size="27.6">1</text>
<text transform="translate(551.2 883.85) scale(0.91 1)" text-anchor="end" font-family="'Liberation Sans', Arial, Helvetica, sans-serif" font-weight="700" font-size="27.6">0</text>
<text transform="translate(595.45 906.55) scale(0.93 1)" text-anchor="middle" font-family="'Liberation Sans', Arial, Helvetica, sans-serif" font-weight="700" font-size="27.6">-7</text>
<text transform="translate(662.9 906.55) scale(0.93 1)" text-anchor="middle" font-family="'Liberation Sans', Arial, Helvetica, sans-serif" font-weight="700" font-size="27.6">-6</text>
<text transform="translate(730.35 906.55) scale(0.93 1)" text-anchor="middle" font-family="'Liberation Sans', Arial, Helvetica, sans-serif" font-weight="700" font-size="27.6">-5</text>
<text transform="translate(797.8 906.55) scale(0.93 1)" text-anchor="middle" font-family="'Liberation Sans', Arial, Helvetica, sans-serif" font-weight="700" font-size="27.6">-4</text>
<text transform="translate(865.25 906.55) scale(0.93 1)" text-anchor="middle" font-family="'Liberation Sans', Arial, Helvetica, sans-serif" font-weight="700" font-size="27.6">-3</text>
<text transform="translate(932.7 906.55) scale(0.93 1)" text-anchor="middle" font-family="'Liberation Sans', Arial, Helvetica, sans-serif" font-weight="700" font-size="27.6">-2</text>
<text x="573.45" y="946.3" font-family="'Liberation Serif', 'Times New Roman', Times, serif" font-weight="700" font-size="34.3" textLength="333.72" lengthAdjust="spacingAndGlyphs">Sera Concentration (log</text>
<text x="922.47" y="952.9" font-family="'Liberation Serif', 'Times New Roman', Times, serif" font-weight="700" font-size="23.5" textLength="24.29" lengthAdjust="spacingAndGlyphs">10</text>
<text x="946.95" y="946.3" font-family="'Liberation Serif', 'Times New Roman', Times, serif" font-weight="700" font-size="34.3" textLength="10.33" lengthAdjust="spacingAndGlyphs">)</text>
<text transform="translate(518 736) rotate(-90) scale(0.93 1)" text-anchor="middle" font-family="'Liberation Serif', 'Times New Roman', Times, serif" font-weight="700" font-size="36">OD<tspan dy="7.5" font-size="25.7">620nm</tspan></text>
<text x="933.5" y="831.5" text-anchor="middle" font-family="'Liberation Sans', Arial, Helvetica, sans-serif" font-weight="700" font-size="29.5" fill="#6a0dad">****</text>
<text x="933.5" y="847" text-anchor="middle" font-family="'Liberation Sans', Arial, Helvetica, sans-serif" font-weight="700" font-size="29.5" fill="#ff0000">****</text>
</g>
<g id="panel-G">
<text x="1048" y="538" font-family="'Liberation Sans', Arial, Helvetica, sans-serif" font-weight="700" font-size="34">G</text>
<text transform="translate(1277.3 576.6) scale(0.96 1)" text-anchor="middle" font-family="'Liberation Serif', 'Times New Roman', Times, serif" font-weight="700" font-size="38.4">IgM</text>
<path d="M1077.45 609.55V876.1M1068.5 876.1H1478.25" fill="none" stroke="#000" stroke-width="3.1"/>
<path d="M1068.5 611.1H1077.45M1068.5 699.5H1077.45M1068.5 788.25H1077.45M1110.25 876.1V885.6M1176.9 876.1V885.6M1243.55 876.1V885.6M1310.2 876.1V885.6M1376.85 876.1V885.6M1443.5 876.1V885.6" fill="none" stroke="#000" stroke-width="3.1"/>
<path d="M1110.25 873.6 L1176.9 873.6 L1243.55 872.6 L1310.2 873.6 L1376.85 873.6 L1443.5 866.8" fill="none" stroke="#000000" stroke-width="4.2" stroke-linejoin="round"/>
<rect x="1104.4" y="867.75" width="11.7" height="11.7" fill="#000000"/>
<rect x="1171.05" y="867.75" width="11.7" height="11.7" fill="#000000"/>
<rect x="1237.7" y="866.75" width="11.7" height="11.7" fill="#000000"/>
<rect x="1304.35" y="867.75" width="11.7" height="11.7" fill="#000000"/>
<rect x="1371" y="867.75" width="11.7" height="11.7" fill="#000000"/>
<rect x="1437.65" y="860.95" width="11.7" height="11.7" fill="#000000"/>
<path d="M1110.25 874.1 L1176.9 874.1 L1243.55 874.1 L1310.2 874.1 L1376.85 872.1 L1443.5 861.6" fill="none" stroke="#0000ff" stroke-width="4.2" stroke-linejoin="round"/>
<path d="M1443.5 855.6V867.6M1435.75 855.6h15.5M1435.75 867.6h15.5" fill="none" stroke="#0000ff" stroke-width="3.5"/>
<rect x="1104.4" y="868.25" width="11.7" height="11.7" fill="#0000ff"/>
<rect x="1171.05" y="868.25" width="11.7" height="11.7" fill="#0000ff"/>
<rect x="1237.7" y="868.25" width="11.7" height="11.7" fill="#0000ff"/>
<rect x="1304.35" y="868.25" width="11.7" height="11.7" fill="#0000ff"/>
<rect x="1371" y="866.25" width="11.7" height="11.7" fill="#0000ff"/>
<rect x="1437.65" y="855.75" width="11.7" height="11.7" fill="#0000ff"/>
<path d="M1110.25 873.6 L1176.9 873.6 L1243.55 873.6 L1310.2 873.6 L1376.85 869.35 L1443.5 836.1" fill="none" stroke="#ff0000" stroke-width="4.2" stroke-linejoin="round"/>
<path d="M1443.5 828.1V843.6M1435.75 828.1h15.5M1435.75 843.6h15.5" fill="none" stroke="#ff0000" stroke-width="3.5"/>
<rect x="1104.4" y="867.75" width="11.7" height="11.7" fill="#ff0000"/>
<rect x="1171.05" y="867.75" width="11.7" height="11.7" fill="#ff0000"/>
<rect x="1237.7" y="867.75" width="11.7" height="11.7" fill="#ff0000"/>
<rect x="1304.35" y="867.75" width="11.7" height="11.7" fill="#ff0000"/>
<rect x="1371" y="863.5" width="11.7" height="11.7" fill="#ff0000"/>
<rect x="1437.65" y="830.25" width="11.7" height="11.7" fill="#ff0000"/>
<path d="M1110.25 873.1 L1176.9 873.6 L1243.55 873.6 L1310.2 873.1 L1376.85 873.6 L1443.5 873.1" fill="none" stroke="#000000" stroke-width="4.2" stroke-linejoin="round"/>
<circle cx="1110.25" cy="873.1" r="4.9" fill="none" stroke="#000000" stroke-width="3.8"/>
<circle cx="1176.9" cy="873.6" r="4.9" fill="none" stroke="#000000" stroke-width="3.8"/>
<circle cx="1243.55" cy="873.6" r="4.9" fill="none" stroke="#000000" stroke-width="3.8"/>
<circle cx="1310.2" cy="873.1" r="4.9" fill="none" stroke="#000000" stroke-width="3.8"/>
<circle cx="1376.85" cy="873.6" r="4.9" fill="none" stroke="#000000" stroke-width="3.8"/>
<circle cx="1443.5" cy="873.1" r="4.9" fill="none" stroke="#000000" stroke-width="3.8"/>
<text transform="translate(1067.2 620.1) scale(0.91 1)" text-anchor="end" font-family="'Liberation Sans', Arial, Helvetica, sans-serif" font-weight="700" font-size="27.6">3</text>
<text transform="translate(1067.2 708.5) scale(0.91 1)" text-anchor="end" font-family="'Liberation Sans', Arial, Helvetica, sans-serif" font-weight="700" font-size="27.6">2</text>
<text transform="translate(1067.2 797.25) scale(0.91 1)" text-anchor="end" font-family="'Liberation Sans', Arial, Helvetica, sans-serif" font-weight="700" font-size="27.6">1</text>
<text transform="translate(1067.2 885.1) scale(0.91 1)" text-anchor="end" font-family="'Liberation Sans', Arial, Helvetica, sans-serif" font-weight="700" font-size="27.6">0</text>
<text transform="translate(1109.95 907.8) scale(0.93 1)" text-anchor="middle" font-family="'Liberation Sans', Arial, Helvetica, sans-serif" font-weight="700" font-size="27.6">-7</text>
<text transform="translate(1176.6 907.8) scale(0.93 1)" text-anchor="middle" font-family="'Liberation Sans', Arial, Helvetica, sans-serif" font-weight="700" font-size="27.6">-6</text>
<text transform="translate(1243.25 907.8) scale(0.93 1)" text-anchor="middle" font-family="'Liberation Sans', Arial, Helvetica, sans-serif" font-weight="700" font-size="27.6">-5</text>
<text transform="translate(1309.9 907.8) scale(0.93 1)" text-anchor="middle" font-family="'Liberation Sans', Arial, Helvetica, sans-serif" font-weight="700" font-size="27.6">-4</text>
<text transform="translate(1376.55 907.8) scale(0.93 1)" text-anchor="middle" font-family="'Liberation Sans', Arial, Helvetica, sans-serif" font-weight="700" font-size="27.6">-3</text>
<text transform="translate(1443.2 907.8) scale(0.93 1)" text-anchor="middle" font-family="'Liberation Sans', Arial, Helvetica, sans-serif" font-weight="700" font-size="27.6">-2</text>
<text x="1088.2" y="948" font-family="'Liberation Serif', 'Times New Roman', Times, serif" font-weight="700" font-size="34.3" textLength="328.28" lengthAdjust="spacingAndGlyphs">Sera Concentration (log</text>
<text x="1431.53" y="954.6" font-family="'Liberation Serif', 'Times New Roman', Times, serif" font-weight="700" font-size="23.5" textLength="23.89" lengthAdjust="spacingAndGlyphs">10</text>
<text x="1455.61" y="948" font-family="'Liberation Serif', 'Times New Roman', Times, serif" font-weight="700" font-size="34.3" textLength="10.16" lengthAdjust="spacingAndGlyphs">)</text>
<text transform="translate(1034.8 739) rotate(-90) scale(0.93 1)" text-anchor="middle" font-family="'Liberation Serif', 'Times New Roman', Times, serif" font-weight="700" font-size="36">OD<tspan dy="7.5" font-size="25.7">620nm</tspan></text>
<text x="1444.9" y="811.7" text-anchor="middle" font-family="'Liberation Sans', Arial, Helvetica, sans-serif" font-weight="700" font-size="29.5" fill="#6a0dad">****</text>
<text x="1444.9" y="826.2" text-anchor="middle" font-family="'Liberation Sans', Arial, Helvetica, sans-serif" font-weight="700" font-size="29.5" fill="#ff0000">****</text>
</g>
<g id="legend">
<path d="M1479.2 630.5H1511" stroke="#000000" stroke-width="3.7"/>
<rect x="1489.25" y="625" width="11" height="11" fill="#000000"/>
<text transform="translate(1526 642.5) scale(0.93 1)" font-family="'Liberation Serif', 'Times New Roman', Times, serif" font-weight="400" font-size="38.5">ID2 alone</text>
<path d="M1479.2 660.75H1511" stroke="#0000ff" stroke-width="3.7"/>
<rect x="1489.25" y="655.25" width="11" height="11" fill="#0000ff"/>
<text transform="translate(1526 673) scale(0.93 1)" font-family="'Liberation Serif', 'Times New Roman', Times, serif" font-weight="400" font-size="38.5">ID2 + Alum</text>
<path d="M1479.2 691.25H1511" stroke="#ff0000" stroke-width="3.7"/>
<rect x="1489.25" y="685.75" width="11" height="11" fill="#ff0000"/>
<text transform="translate(1526 703.75) scale(0.93 1)" font-family="'Liberation Serif', 'Times New Roman', Times, serif" font-weight="400" font-size="38.5">ID2 + GLA-SE</text>
<path d="M1479.2 722H1511" stroke="#000000" stroke-width="3.7"/>
<circle cx="1494.75" cy="722" r="4.8" fill="none" stroke="#000000" stroke-width="3.6"/>
<text transform="translate(1526 734.25) scale(0.93 1)" font-family="'Liberation Serif', 'Times New Roman', Times, serif" font-weight="400" font-size="38.5">Pre-bleed</text>
</g>
<g id="panel-H">
<text x="50.8" y="1082.3" font-family="'Liberation Sans', Arial, Helvetica, sans-serif" font-weight="700" font-size="34">H</text>
<rect x="452.12" y="1247.4" width="89.31" height="85.3" fill="#fff2cc"/>
<rect x="541.43" y="1247.4" width="89.31" height="85.3" fill="#fff2cc"/>
<rect x="630.74" y="1247.4" width="89.31" height="85.3" fill="#ffff00"/>
<rect x="720.06" y="1247.4" width="89.31" height="85.3" fill="#fff2cc"/>
<rect x="809.37" y="1247.4" width="89.31" height="85.3" fill="#ff0000"/>
<rect x="898.68" y="1247.4" width="89.31" height="85.3" fill="#ffff00"/>
<rect x="987.99" y="1247.4" width="89.31" height="85.3" fill="#ff6600"/>
<rect x="1077.3" y="1247.4" width="89.31" height="85.3" fill="#c00000"/>
<rect x="1166.61" y="1247.4" width="89.31" height="85.3" fill="#ff0000"/>
<rect x="1255.92" y="1247.4" width="89.31" height="85.3" fill="#ff0000"/>
<rect x="1345.23" y="1247.4" width="89.31" height="85.3" fill="#ff6600"/>
<rect x="1434.54" y="1247.4" width="89.31" height="85.3" fill="#ff0000"/>
<rect x="1523.86" y="1247.4" width="89.31" height="85.3" fill="#ff0000"/>
<rect x="1613.17" y="1247.4" width="89.31" height="85.3" fill="#c00000"/>
<rect x="1702.48" y="1247.4" width="89.31" height="85.3" fill="#c00000"/>
<rect x="1791.79" y="1247.4" width="89.31" height="85.3" fill="#c00000"/>
<rect x="1345.23" y="1332.7" width="89.31" height="85.3" fill="#ff6600"/>
<rect x="1434.54" y="1332.7" width="89.31" height="85.3" fill="#ffff00"/>
<rect x="1523.86" y="1332.7" width="89.31" height="85.3" fill="#fff2cc"/>
<rect x="1613.17" y="1332.7" width="89.31" height="85.3" fill="#ffc000"/>
<rect x="1702.48" y="1332.7" width="89.31" height="85.3" fill="#ffc000"/>
<rect x="1791.79" y="1332.7" width="89.31" height="85.3" fill="#ffff00"/>
<rect x="1077.3" y="1418" width="89.31" height="85" fill="#fff2cc"/>
<rect x="1255.92" y="1418" width="89.31" height="85" fill="#fff2cc"/>
<rect x="1345.23" y="1418" width="89.31" height="85" fill="#ffff00"/>
<rect x="1434.54" y="1418" width="89.31" height="85" fill="#fff2cc"/>
<rect x="1523.86" y="1418" width="89.31" height="85" fill="#fff2cc"/>
<rect x="1613.17" y="1418" width="89.31" height="85" fill="#fff2cc"/>
<rect x="1702.48" y="1418" width="89.31" height="85" fill="#ffff00"/>
<rect x="1791.79" y="1418" width="89.31" height="85" fill="#ffff00"/>
<path d="M362.81 1162.3V1503M452.12 1162.3V1503M541.43 1162.3V1503M630.74 1162.3V1503M720.06 1162.3V1503M898.68 1162.3V1503M987.99 1162.3V1503M1077.3 1162.3V1503M1166.61 1162.3V1503M1255.92 1162.3V1503M1434.54 1162.3V1503M1523.86 1162.3V1503M1613.17 1162.3V1503M1702.48 1162.3V1503M1791.79 1162.3V1503M273.5 1332.7H1881.1M273.5 1418H1881.1" fill="none" stroke="#000" stroke-width="2"/>
<path d="M273.5 1076.7H1881.1M174.5 1162.3H1881.1M78.5 1247.4H1881.1M78.5 1503H1881.1M174.5 1332.7H273.5M174.5 1418H273.5M273.5 1074.7V1505M809.37 1074.7V1505M1345.23 1074.7V1505M1881.1 1074.7V1505M174.5 1160.3V1505M78.5 1245.4V1505" fill="none" stroke="#000" stroke-width="4"/>
<text x="541.43" y="1134" text-anchor="middle" font-family="'Liberation Serif', 'Times New Roman', Times, serif" font-size="41.3">ID2 Alone</text>
<text x="1077.3" y="1134" text-anchor="middle" font-family="'Liberation Serif', 'Times New Roman', Times, serif" font-size="40.7">ID2 + Alum</text>
<text x="1613.17" y="1134" text-anchor="middle" font-family="'Liberation Serif', 'Times New Roman', Times, serif" font-size="40.2">ID2 + GLA-SE</text>
<text x="224" y="1197" text-anchor="middle" font-family="'Liberation Serif', 'Times New Roman', Times, serif" font-size="31">Mouse</text>
<text x="224" y="1235" text-anchor="middle" font-family="'Liberation Serif', 'Times New Roman', Times, serif" font-size="31">ID</text>
<text x="317.36" y="1216" text-anchor="middle" font-family="'Liberation Serif', 'Times New Roman', Times, serif" font-size="32.6">4002</text>
<text x="406.67" y="1216" text-anchor="middle" font-family="'Liberation Serif', 'Times New Roman', Times, serif" font-size="32.6">4004</text>
<text x="495.98" y="1216" text-anchor="middle" font-family="'Liberation Serif', 'Times New Roman', Times, serif" font-size="32.6">4013</text>
<text x="585.29" y="1216" text-anchor="middle" font-family="'Liberation Serif', 'Times New Roman', Times, serif" font-size="32.6">4014</text>
<text x="674.6" y="1216" text-anchor="middle" font-family="'Liberation Serif', 'Times New Roman', Times, serif" font-size="32.6">4015</text>
<text x="763.91" y="1216" text-anchor="middle" font-family="'Liberation Serif', 'Times New Roman', Times, serif" font-size="32.6">4016</text>
<text x="853.22" y="1216" text-anchor="middle" font-family="'Liberation Serif', 'Times New Roman', Times, serif" font-size="32.6">4005</text>
<text x="942.53" y="1216" text-anchor="middle" font-family="'Liberation Serif', 'Times New Roman', Times, serif" font-size="32.6">4007</text>
<text x="1031.84" y="1216" text-anchor="middle" font-family="'Liberation Serif', 'Times New Roman', Times, serif" font-size="32.6">4008</text>
<text x="1121.16" y="1216" text-anchor="middle" font-family="'Liberation Serif', 'Times New Roman', Times, serif" font-size="32.6">4017</text>
<text x="1210.47" y="1216" text-anchor="middle" font-family="'Liberation Serif', 'Times New Roman', Times, serif" font-size="32.6">4019</text>
<text x="1299.78" y="1216" text-anchor="middle" font-family="'Liberation Serif', 'Times New Roman', Times, serif" font-size="32.6">4020</text>
<text x="1389.09" y="1216" text-anchor="middle" font-family="'Liberation Serif', 'Times New Roman', Times, serif" font-size="32.6">4009</text>
<text x="1478.4" y="1216" text-anchor="middle" font-family="'Liberation Serif', 'Times New Roman', Times, serif" font-size="32.6">4011</text>
<text x="1567.71" y="1216" text-anchor="middle" font-family="'Liberation Serif', 'Times New Roman', Times, serif" font-size="32.6">4012</text>
<text x="1657.02" y="1216" text-anchor="middle" font-family="'Liberation Serif', 'Times New Roman', Times, serif" font-size="32.6">4022</text>
<text x="1746.33" y="1216" text-anchor="middle" font-family="'Liberation Serif', 'Times New Roman', Times, serif" font-size="32.6">4023</text>
<text x="1835.64" y="1216" text-anchor="middle" font-family="'Liberation Serif', 'Times New Roman', Times, serif" font-size="32.6">4024</text>
<text x="223" y="1300.7" text-anchor="middle" font-family="'Liberation Serif', 'Times New Roman', Times, serif" font-size="31.6">IgG1</text>
<text x="223" y="1385.7" text-anchor="middle" font-family="'Liberation Serif', 'Times New Roman', Times, serif" font-size="31.6">IgG2a</text>
<text x="223" y="1470.7" text-anchor="middle" font-family="'Liberation Serif', 'Times New Roman', Times, serif" font-size="31.6">IgG2b</text>
<text transform="translate(137 1375.5) rotate(-90)" text-anchor="middle" font-family="'Liberation Serif', 'Times New Roman', Times, serif" font-size="31">IgG subclass</text>
<text x="69" y="1566" font-family="'Liberation Serif', 'Times New Roman', Times, serif" font-size="35.7">&lt;1:500</text>
<rect x="78.7" y="1588.6" width="95.7" height="85" fill="#ffffff" stroke="#000" stroke-width="4"/>
<text x="307.5" y="1566" font-family="'Liberation Serif', 'Times New Roman', Times, serif" font-size="35.7">1:501-1:2000</text>
<rect x="363.1" y="1588.6" width="89.3" height="85" fill="#fff2cc" stroke="#000" stroke-width="4"/>
<text x="556" y="1566" font-family="'Liberation Serif', 'Times New Roman', Times, serif" font-size="35.7">1:2001-1:8000</text>
<rect x="630.6" y="1588.6" width="89.3" height="85" fill="#ffff00" stroke="#000" stroke-width="4"/>
<text x="814" y="1566" font-family="'Liberation Serif', 'Times New Roman', Times, serif" font-size="35.7">1:8001-1:15000</text>
<rect x="898.6" y="1588.6" width="89.3" height="85" fill="#ffc000" stroke="#000" stroke-width="4"/>
<text x="1099" y="1566" font-family="'Liberation Serif', 'Times New Roman', Times, serif" font-size="35.7">1:15001-1:25000</text>
<rect x="1166.1" y="1588.6" width="89.8" height="85" fill="#ff6600" stroke="#000" stroke-width="4"/>
<text x="1391.5" y="1566" font-family="'Liberation Serif', 'Times New Roman', Times, serif" font-size="35.7">1:25001-1:35000</text>
<rect x="1434.1" y="1588.6" width="89.8" height="85" fill="#ff0000" stroke="#000" stroke-width="4"/>
<text x="1685" y="1566" font-family="'Liberation Serif', 'Times New Roman', Times, serif" font-size="35.7">&gt;1:35000</text>
<rect x="1702.1" y="1588.6" width="89.8" height="85" fill="#c00000" stroke="#000" stroke-width="4"/>
</g>
</svg>
</body>
</html>
